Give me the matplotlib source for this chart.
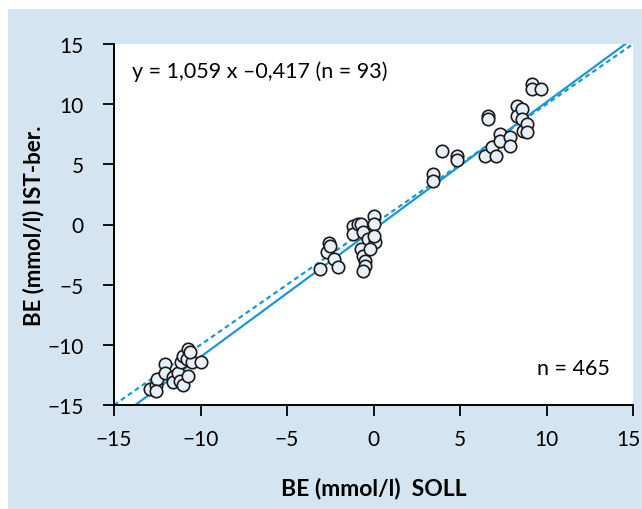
import matplotlib
matplotlib.use("Agg")
from matplotlib import pyplot as plt
from matplotlib.patches import Rectangle
import matplotlib.transforms as mtransforms
import numpy as np

plt.rcParams['font.family'] = ['Lato', 'DejaVu Sans']

soll = [-12.9, -12.6, -12.5, -12.6, -12.05, -12.05, -11.6, -11.6, -11.3, -11.2,
        -11.0, -11.1, -11.0, -10.7, -10.8, -10.5, -10.0, -10.7, -10.6,
        -3.1, -2.7, -2.6, -2.5, -2.3, -2.05, -1.2, -1.2, -0.9, -0.7, -0.6,
        0.0, 0.0, -0.3, 0.1, -0.7, -0.6, -0.5, -0.5, -0.6, 0.0, -0.2,
        3.45, 3.45, 3.95, 4.8, 4.8,
        6.45, 6.85, 7.1, 7.3, 7.3, 7.9, 7.9, 6.6, 6.6, 8.3, 8.3, 8.6, 8.6,
        8.65, 8.9, 8.85, 9.15, 9.15, 9.7]
ist = [-13.7, -13.3, -12.85, -13.85, -11.6, -12.3, -12.7, -13.1, -12.3, -13.0,
       -13.3, -11.4, -10.9, -10.35, -11.2, -11.4, -11.4, -12.6, -10.6,
       -3.7, -2.3, -1.5, -1.8, -2.9, -3.55, -0.1, -0.8, 0.05, 0.05, -0.6,
       0.7, 0.05, -1.2, -1.45, -2.0, -2.6, -3.0, -3.45, -3.9, -0.95, -2.0,
       4.2, 3.6, 6.1, 5.7, 5.35,
       5.7, 6.4, 5.7, 7.5, 6.9, 7.3, 6.5, 9.0, 8.75, 9.85, 9.0, 9.6, 8.75,
       7.8, 8.35, 7.7, 11.7, 11.3, 11.3]

slope, intercept = 1.059, -0.417
ticks = [-15, -10, -5, 0, 5, 10, 15]
tick_labels = ['\u221215', '\u221210', '\u22125', '0', '5', '10', '15']

blue = '#1b98d3'

fig = plt.figure(figsize=(6.42, 5.10), dpi=100, facecolor='white')
fig.patches.append(Rectangle((8 / 642, 0), 1, 1 - 10 / 510, transform=fig.transFigure,
                             facecolor='#d4e4f0', edgecolor='none', zorder=-10))

ax = fig.add_axes([114 / 642, 104 / 510, 519 / 642, 361 / 510])
ax.set_facecolor('white')

xx = np.array([-15, 15])
ax.plot(xx, xx, ls=(0, (2.2, 1.6)), color=blue, lw=1.6, zorder=2)
ax.plot(xx, slope * xx + intercept, color=blue, lw=1.6, zorder=2)
ax.scatter(soll, ist, s=80, facecolor='#e9eff7', edgecolor='#1a1a1a',
           linewidths=1.2, zorder=3)

ax.set_xlim(-15, 15)
ax.set_ylim(-15, 15)
ax.set_xticks(ticks)
ax.set_xticklabels(tick_labels)
ax.set_yticks(ticks)
ax.set_yticklabels(tick_labels)
for s in ['top', 'right']:
    ax.spines[s].set_visible(False)
for s in ['left', 'bottom']:
    ax.spines[s].set_linewidth(1.4)
ax.tick_params(axis='both', direction='out', length=8, width=1.3, labelsize=15)
ax.tick_params(axis='x', pad=9)
ax.tick_params(axis='y', pad=14)

# letzte x-Beschriftung etwas nach links, damit sie nicht abgeschnitten wird
last = ax.get_xticklabels()[-1]
last.set_transform(last.get_transform() +
                   mtransforms.ScaledTranslation(-5 / 100, 0, fig.dpi_scale_trans))

ax.text(0.035, 0.925, 'y = 1,059 x \u20130,417 (n = 93)', transform=ax.transAxes,
        fontsize=15.5, va='center', ha='left')
ax.text(0.815, 0.103, 'n = 465', transform=ax.transAxes,
        fontsize=15.5, va='center', ha='left')

ax.set_xlabel('BE (mmol/l)  SOLL', fontsize=16.5, fontweight='bold', labelpad=20)
ax.set_ylabel('BE (mmol/l) IST-ber.', fontsize=16, fontweight='bold', labelpad=2)

plt.savefig('out.png', dpi=100, facecolor=fig.get_facecolor())
